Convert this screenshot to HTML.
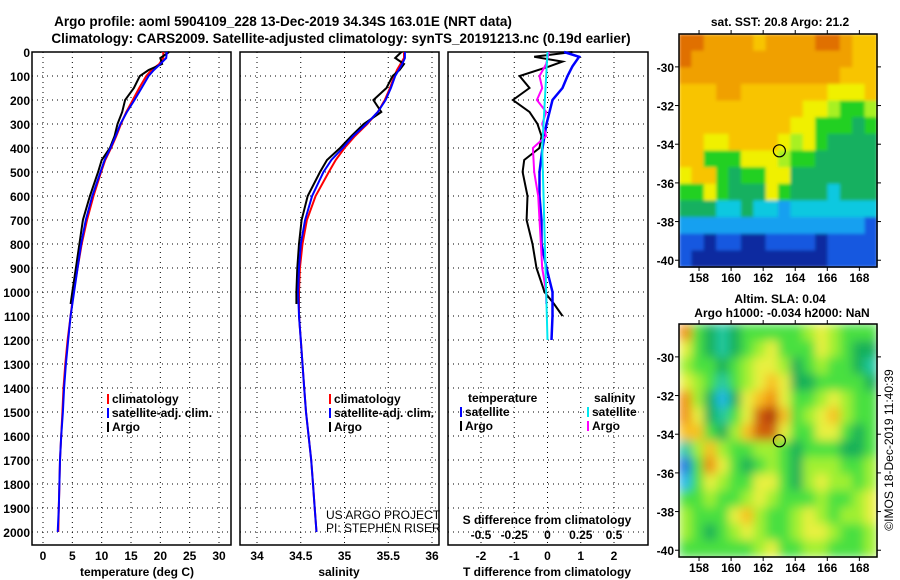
<!DOCTYPE html>
<html><head><meta charset="utf-8"><style>
html,body{margin:0;padding:0;background:#fff;}
svg{display:block;font-family:"Liberation Sans",Arial,sans-serif;font-weight:bold;}
text{font-size:12px;fill:#000;}
</style></head><body>
<svg id="c" width="900" height="580" xmlns="http://www.w3.org/2000/svg">
<defs>
<filter id="blurS" x="0" y="0" width="1" height="1"><feGaussianBlur stdDeviation="1.5" edgeMode="duplicate"/></filter>
<filter id="blurL" x="0" y="0" width="1" height="1"><feGaussianBlur stdDeviation="5" edgeMode="duplicate"/></filter>
</defs>
</svg>
<script>
// ---------- data ----------
const depths = [0,25,50,75,100,150,200,250,300,350,400,450,500,600,700,800,900,1000,1100,1200,1300,1400,1500,1600,1700,1800,1900,2000];
const tempClim = [20.5,20.5,19.8,18.5,17.6,16.4,15.3,14.2,13.3,12.5,11.6,10.6,9.9,8.6,7.5,6.6,5.9,5.2,4.7,4.2,3.8,3.5,3.3,3.1,2.9,2.8,2.7,2.6];
const tempSat = [21.1,21.0,20.0,18.9,18.0,16.8,15.6,14.3,13.2,12.4,11.5,10.5,9.8,8.4,7.3,6.5,5.9,5.3,4.7,4.3,3.9,3.6,3.4,3.1,2.9,2.8,2.7,2.5];
const argoDepths = [0,25,50,75,100,150,200,250,300,350,400,450,500,600,700,800,900,1000,1050];
const tempArgo = [21.5,20.0,20.3,18.0,16.5,15.5,14.0,13.5,12.7,12.2,11.4,10.0,9.4,8.0,6.8,6.2,5.6,5.0,4.7];
const salClim = [35.68,35.68,35.64,35.60,35.57,35.52,35.46,35.38,35.26,35.12,35.00,34.90,34.82,34.67,34.57,34.52,34.49,34.48,34.48,34.50,34.52,34.54,34.56,34.59,34.62,34.64,34.66,34.68];
const salSat = [35.69,35.69,35.66,35.62,35.58,35.53,35.47,35.38,35.25,35.10,34.98,34.85,34.76,34.63,34.55,34.50,34.48,34.47,34.48,34.50,34.52,34.54,34.56,34.59,34.62,34.64,34.66,34.68];
const salArgo = [35.65,35.58,35.68,35.63,35.55,35.48,35.33,35.42,35.22,35.08,34.95,34.80,34.72,34.58,34.51,34.48,34.46,34.45,34.45];
const diffDepthsA = [0,20,40,60,100,150,200,250,300,350,400,450,500,600,700,800,900,1000,1050,1100];
const tDiffArgo = [0.75,-0.4,0.45,0.05,-0.84,-0.54,-1.04,-0.54,-0.3,-0.18,-0.24,-0.7,-0.75,-0.6,-0.63,-0.45,-0.33,-0.09,0.2,0.45];
const diffDepthsS = [0,20,60,100,150,200,250,300,400,500,600,700,800,900,1000,1100,1200];
const tDiffSat = [0.5,0.95,0.75,0.6,0.45,0.15,0.06,-0.03,-0.15,-0.24,-0.24,-0.18,-0.18,-0.03,0.15,0.15,0.12];
const sDiffDepthsA = [0,50,100,150,200,250,300,350,400,500,600,700,800,900,1000,1050];
const sDiffArgo = [0.01,-0.01,-0.06,-0.04,-0.08,-0.01,-0.04,-0.01,-0.11,-0.10,-0.07,-0.06,-0.05,-0.04,-0.01,-0.01];
const sDiffDepthsS = [0,400,1200];
const sDiffSat = [0.0,-0.04,0.0];
const depthTicks = [0,100,200,300,400,500,600,700,800,900,1000,1100,1200,1300,1400,1500,1600,1700,1800,1900,2000];
const tempTicks = [0,5,10,15,20,25,30];
const salTicks = ["34","34.5","35","35.5","36"];
const tDiffTicks = [-2,-1,0,1,2];
const sDiffTicks = ["-0.5","-0.25","0","0.25","0.5"];
const lonTicks = [158,160,162,164,166,168];
const latTicks = [-30,-32,-34,-36,-38,-40];
const sstPalette = ["#0a2aa0","#1858e0","#18a0f0","#10c8e0","#18b060","#20d020","#a8f020","#f0f000","#f8c400","#f0a000","#e07000","#c03a00"];
const slaPalette = ["#0a2aa0","#1870e0","#20b8e8","#20c8a0","#18b058","#48e040","#a0f030","#e8f040","#f8c020","#f09010","#d06010","#b03008"];
const sstGrid = [
"AA999989999AA988","A999999999999988","9999999999999888","8889988888887778",
"8888888888776556","8888888887755545","8877888876754444","8855577765544444",
"7885455774444444","5575444754443444","4443343323333333","2222222222222221",
"1101100111101111","1000000000001111"];
const slaGrid = [
"9543455555676555","7543456755576544","6554567764565543","7653567874455554",
"9642478975567655","974357AB85678655","885468AA75577545","3686556654555445",
"1597545654666556","2576557754676656","5565567655565567","6555786556765667",
"6545676556776556","5555556755665556"];
const argoLon = 163.01, argoLat = -34.34;

// ---------- helpers ----------
const NS = "http://www.w3.org/2000/svg";
const svg = document.getElementById("c");
function el(tag, attrs, parent){ const e=document.createElementNS(NS,tag); for(const k in attrs) e.setAttribute(k,attrs[k]); (parent||svg).appendChild(e); return e; }
function txt(x,y,s,anchor,parent,extra){ const t=el("text",Object.assign({x:x,y:y,"text-anchor":anchor||"start"},extra||{}),parent); t.textContent=s; return t; }

const Y0=52, Y1=532, FB=545;
const yD = d => Y0 + (d/2000)*(Y1-Y0);
const xT = v => 43 + v*(219-43)/30;
const xS = v => 257 + (v-34)*(432-257)/2;
const xTd = v => 547.5 + v*(614-481)/4;
const xSd = v => 547.5 + v*(614-481)/1;

function panel(name,x0,x1,gridXs){
  const g=el("g",{});
  
  
  gridXs.forEach(gx=>el("line",{x1:gx,x2:gx,y1:Y0,y2:FB,stroke:"#000","stroke-width":1,"stroke-dasharray":"1,4"},g));
  depthTicks.forEach(d=>el("line",{x1:x0,x2:x1,y1:yD(d),y2:yD(d),stroke:"#000","stroke-width":1,"stroke-dasharray":"1,4"},g));
  el("rect",{x:x0,y:Y0,width:x1-x0,height:FB-Y0,fill:"none",stroke:"#000","stroke-width":1.5},g);
  return g;
}
function line(g,xs,ds,fx,color,name,w){
  const pts=xs.map((v,i)=>fx(v).toFixed(1)+","+yD(ds[i]).toFixed(1)).join(" ");
  const p=el("polyline",{points:pts,fill:"none",stroke:color,"stroke-width":w||2},g);
  
  
}

// titles
const t1=txt(283,26,"Argo profile: aoml 5904109_228 13-Dec-2019 34.34S 163.01E (NRT data)","middle",svg,{style:"font-size:13.5px"});


const t2=txt(341,43,"Climatology: CARS2009. Satellite-adjusted climatology: synTS_20191213.nc (0.19d earlier)","middle",svg,{style:"font-size:13.5px"});



// depth labels
depthTicks.forEach(d=>{ const t=txt(30,yD(d)+5,String(d),"end");   });

// Panel 1 temperature
const p1=panel("temperature-panel",32,231,tempTicks.map(xT));
line(p1,tempClim,depths,xT,"#ff0000","climatology-temp-line");
line(p1,tempArgo,argoDepths,xT,"#000","argo-temp-line");
line(p1,tempSat,depths,xT,"#0000ff","satellite-temp-line");
tempTicks.forEach(v=>{ const t=txt(xT(v),560,String(v),"middle");   });
const xa1=txt(137,576,"temperature (deg C)","middle");  

function legend(x,y,color,label,name){
  const g=el("g",{});
  
  
  el("rect",{x:x,y:y-9,width:2,height:10,fill:color},g);
  txt(x+5,y,label,"start",g);
}
legend(107,403,"#ff0000","climatology","legend-climatology");
legend(107,417,"#0000ff","satellite-adj. clim.","legend-satellite");
legend(107,431,"#000","Argo","legend-argo");

// Panel 2 salinity
const p2=panel("salinity-panel",240,439,salTicks.map(s=>xS(+s)));
line(p2,salClim,depths,xS,"#ff0000","climatology-salinity-line");
line(p2,salArgo,argoDepths,xS,"#000","argo-salinity-line");
line(p2,salSat,depths,xS,"#0000ff","satellite-salinity-line");
salTicks.forEach(s=>{ const t=txt(xS(+s),560,s,"middle");   });
const xa2=txt(339,576,"salinity","middle");  
legend(329,403,"#ff0000","climatology","legend-climatology-2");
legend(329,417,"#0000ff","satellite-adj. clim.","legend-satellite-2");
legend(329,431,"#000","Argo","legend-argo-2");
const cr=el("g",{});  
txt(326,519,"US ARGO PROJECT","start",cr,{style:"font-weight:normal"});
txt(326,532,"PI: STEPHEN RISER","start",cr,{style:"font-weight:normal"});

// Panel 3 differences
const p3=panel("difference-panel",448,648,tDiffTicks.map(xTd));
line(p3,tDiffArgo,diffDepthsA,xTd,"#000","argo-temp-diff-line");
line(p3,tDiffSat,diffDepthsS,xTd,"#0000ff","satellite-temp-diff-line",2.5);
line(p3,sDiffArgo,sDiffDepthsA,xSd,"#ff00ff","argo-salinity-diff-line");
line(p3,sDiffSat,sDiffDepthsS,xSd,"#00e8f0","satellite-salinity-diff-line");
tDiffTicks.forEach(v=>{ const t=txt(xTd(v),560,String(v),"middle");   });
sDiffTicks.forEach(s=>{ const t=txt(xSd(+s),539,s,"middle");   });
const sdt=txt(547,524,"S difference from climatology","middle");  
const xa3=txt(547,576,"T difference from climatology","middle");  
const lh1=txt(468,402,"temperature");  
const lh2=txt(594,402,"salinity");  
legend(460,416,"#0000ff","satellite","legend-temp-satellite");
legend(460,430,"#000","Argo","legend-temp-argo");
legend(587,416,"#00e8f0","satellite","legend-sal-satellite");
legend(587,430,"#ff00ff","Argo","legend-sal-argo");

// ---------- maps ----------
function drawMap(name,grid,pal,filt,top,bottom){
  const X0=679,X1=877;
  const lonL=156.75, lonR=169.1;
  const latTop=-28.3, latBot=-40.35;
  const lx = lon => X0 + (lon-lonL)/(lonR-lonL)*(X1-X0);
  const ly = lat => top + (lat-latTop)/(latBot-latTop)*(bottom-top);
  const g=el("g",{});
  
  
  const cells=el("g",{filter:"url(#"+filt+")"},g);
  const rows=grid.length, cols=grid[0].length;
  const cw=(X1-X0)/cols, ch=(bottom-top)/rows;
  grid.forEach((row,r)=>{ for(let c=0;c<cols;c++){ const idx=parseInt(row[c],16);
    el("rect",{x:(X0+c*cw).toFixed(2),y:(top+r*ch).toFixed(2),width:(cw+0.6).toFixed(2),height:(ch+0.6).toFixed(2),fill:pal[idx]},cells);}});
  el("rect",{x:X0,y:top,width:X1-X0,height:bottom-top,fill:"none",stroke:"#000","stroke-width":1.5},g);
  lonTicks.forEach(l=>{ el("line",{x1:lx(l),x2:lx(l),y1:top,y2:top-4,stroke:"#000"},g); el("line",{x1:lx(l),x2:lx(l),y1:bottom,y2:bottom+4,stroke:"#000"},g); txt(lx(l),bottom+15,String(l),"middle",g); });
  latTicks.forEach(l=>{ el("line",{x1:X1,x2:X1+4,y1:ly(l),y2:ly(l),stroke:"#000"},g); el("line",{x1:X0,x2:X0-4,y1:ly(l),y2:ly(l),stroke:"#000"},g); txt(X0-5,ly(l)+5,String(l),"end",g); });
  const m=el("circle",{cx:lx(argoLon),cy:ly(argoLat),r:6,fill:"none",stroke:"#000","stroke-width":1.2},g);
  
  
}
drawMap("sst-map",sstGrid,sstPalette,"blurS",34,267);
drawMap("sla-map",slaGrid,slaPalette,"blurL",324,557);
const mt1=txt(780,26,"sat. SST: 20.8 Argo: 21.2","middle");  
const mt2=txt(780,303,"Altim. SLA: 0.04","middle");  
const mt3=txt(782,317,"Argo h1000: -0.034 h2000: NaN","middle");  
const cp=txt(0,0,"©IMOS 18-Dec-2019 11:40:39","middle",svg,{transform:"translate(893,450) rotate(-90)",style:"font-weight:normal"});


</script>
</body></html>
